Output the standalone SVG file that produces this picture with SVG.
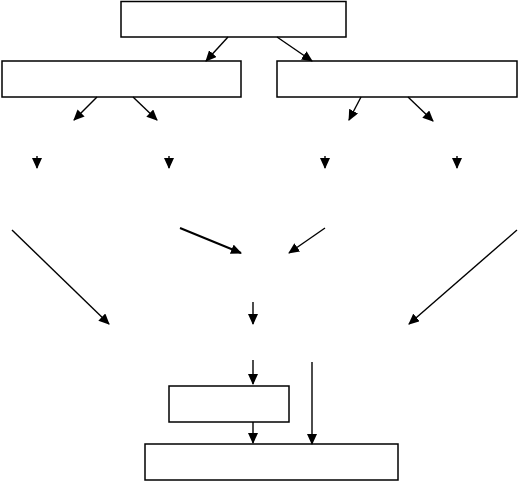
<svg xmlns="http://www.w3.org/2000/svg" width="519" height="481" viewBox="0 0 519 481">
<style>
.box{fill:#fff;stroke:#000;stroke-width:1.5}
.c line{stroke:#000;stroke-width:1.4;marker-end:url(#ah)}
</style>
<defs>
<marker id="ah" markerUnits="userSpaceOnUse" markerWidth="12" markerHeight="10" refX="10" refY="5" orient="auto">
<path d="M0,0 L11,5 L0,10 Z" fill="#000"/>
</marker>
</defs>
<rect width="519" height="481" fill="#fff"/>
<g id="n-top"><rect class="box" x="121" y="1.5" width="225" height="35.5"/></g>
<g id="n-left"><rect class="box" x="2" y="61" width="239" height="36"/></g>
<g id="n-right"><rect class="box" x="277" y="61" width="240" height="36"/></g>
<g id="n-small"><rect class="box" x="169" y="386" width="120" height="36"/></g>
<g id="n-bottom"><rect class="box" x="145" y="444" width="253" height="36"/></g>
<g class="c" id="connectors">
<line x1="228" y1="37" x2="206" y2="61"/>
<line x1="277" y1="37" x2="312" y2="61"/>
<line x1="97" y1="97" x2="74" y2="120"/>
<line x1="133" y1="97" x2="157" y2="120"/>
<line x1="361" y1="97" x2="349" y2="120"/>
<line x1="408" y1="97" x2="433" y2="121"/>
<line x1="37" y1="156" x2="37" y2="168"/>
<line x1="169" y1="156" x2="169" y2="168"/>
<line x1="325" y1="156" x2="325" y2="168"/>
<line x1="457" y1="156" x2="457" y2="168"/>
<line x1="12" y1="230" x2="109" y2="324"/>
<line x1="180" y1="228" x2="241" y2="253" style="stroke-width:2"/>
<line x1="325" y1="228" x2="289" y2="253"/>
<line x1="517" y1="230" x2="409" y2="324"/>
<line x1="253" y1="302" x2="253" y2="324"/>
<line x1="253" y1="360" x2="253" y2="384"/>
<line x1="253" y1="422" x2="253" y2="443"/>
<line x1="312" y1="362" x2="312" y2="444"/>
</g>
</svg>
